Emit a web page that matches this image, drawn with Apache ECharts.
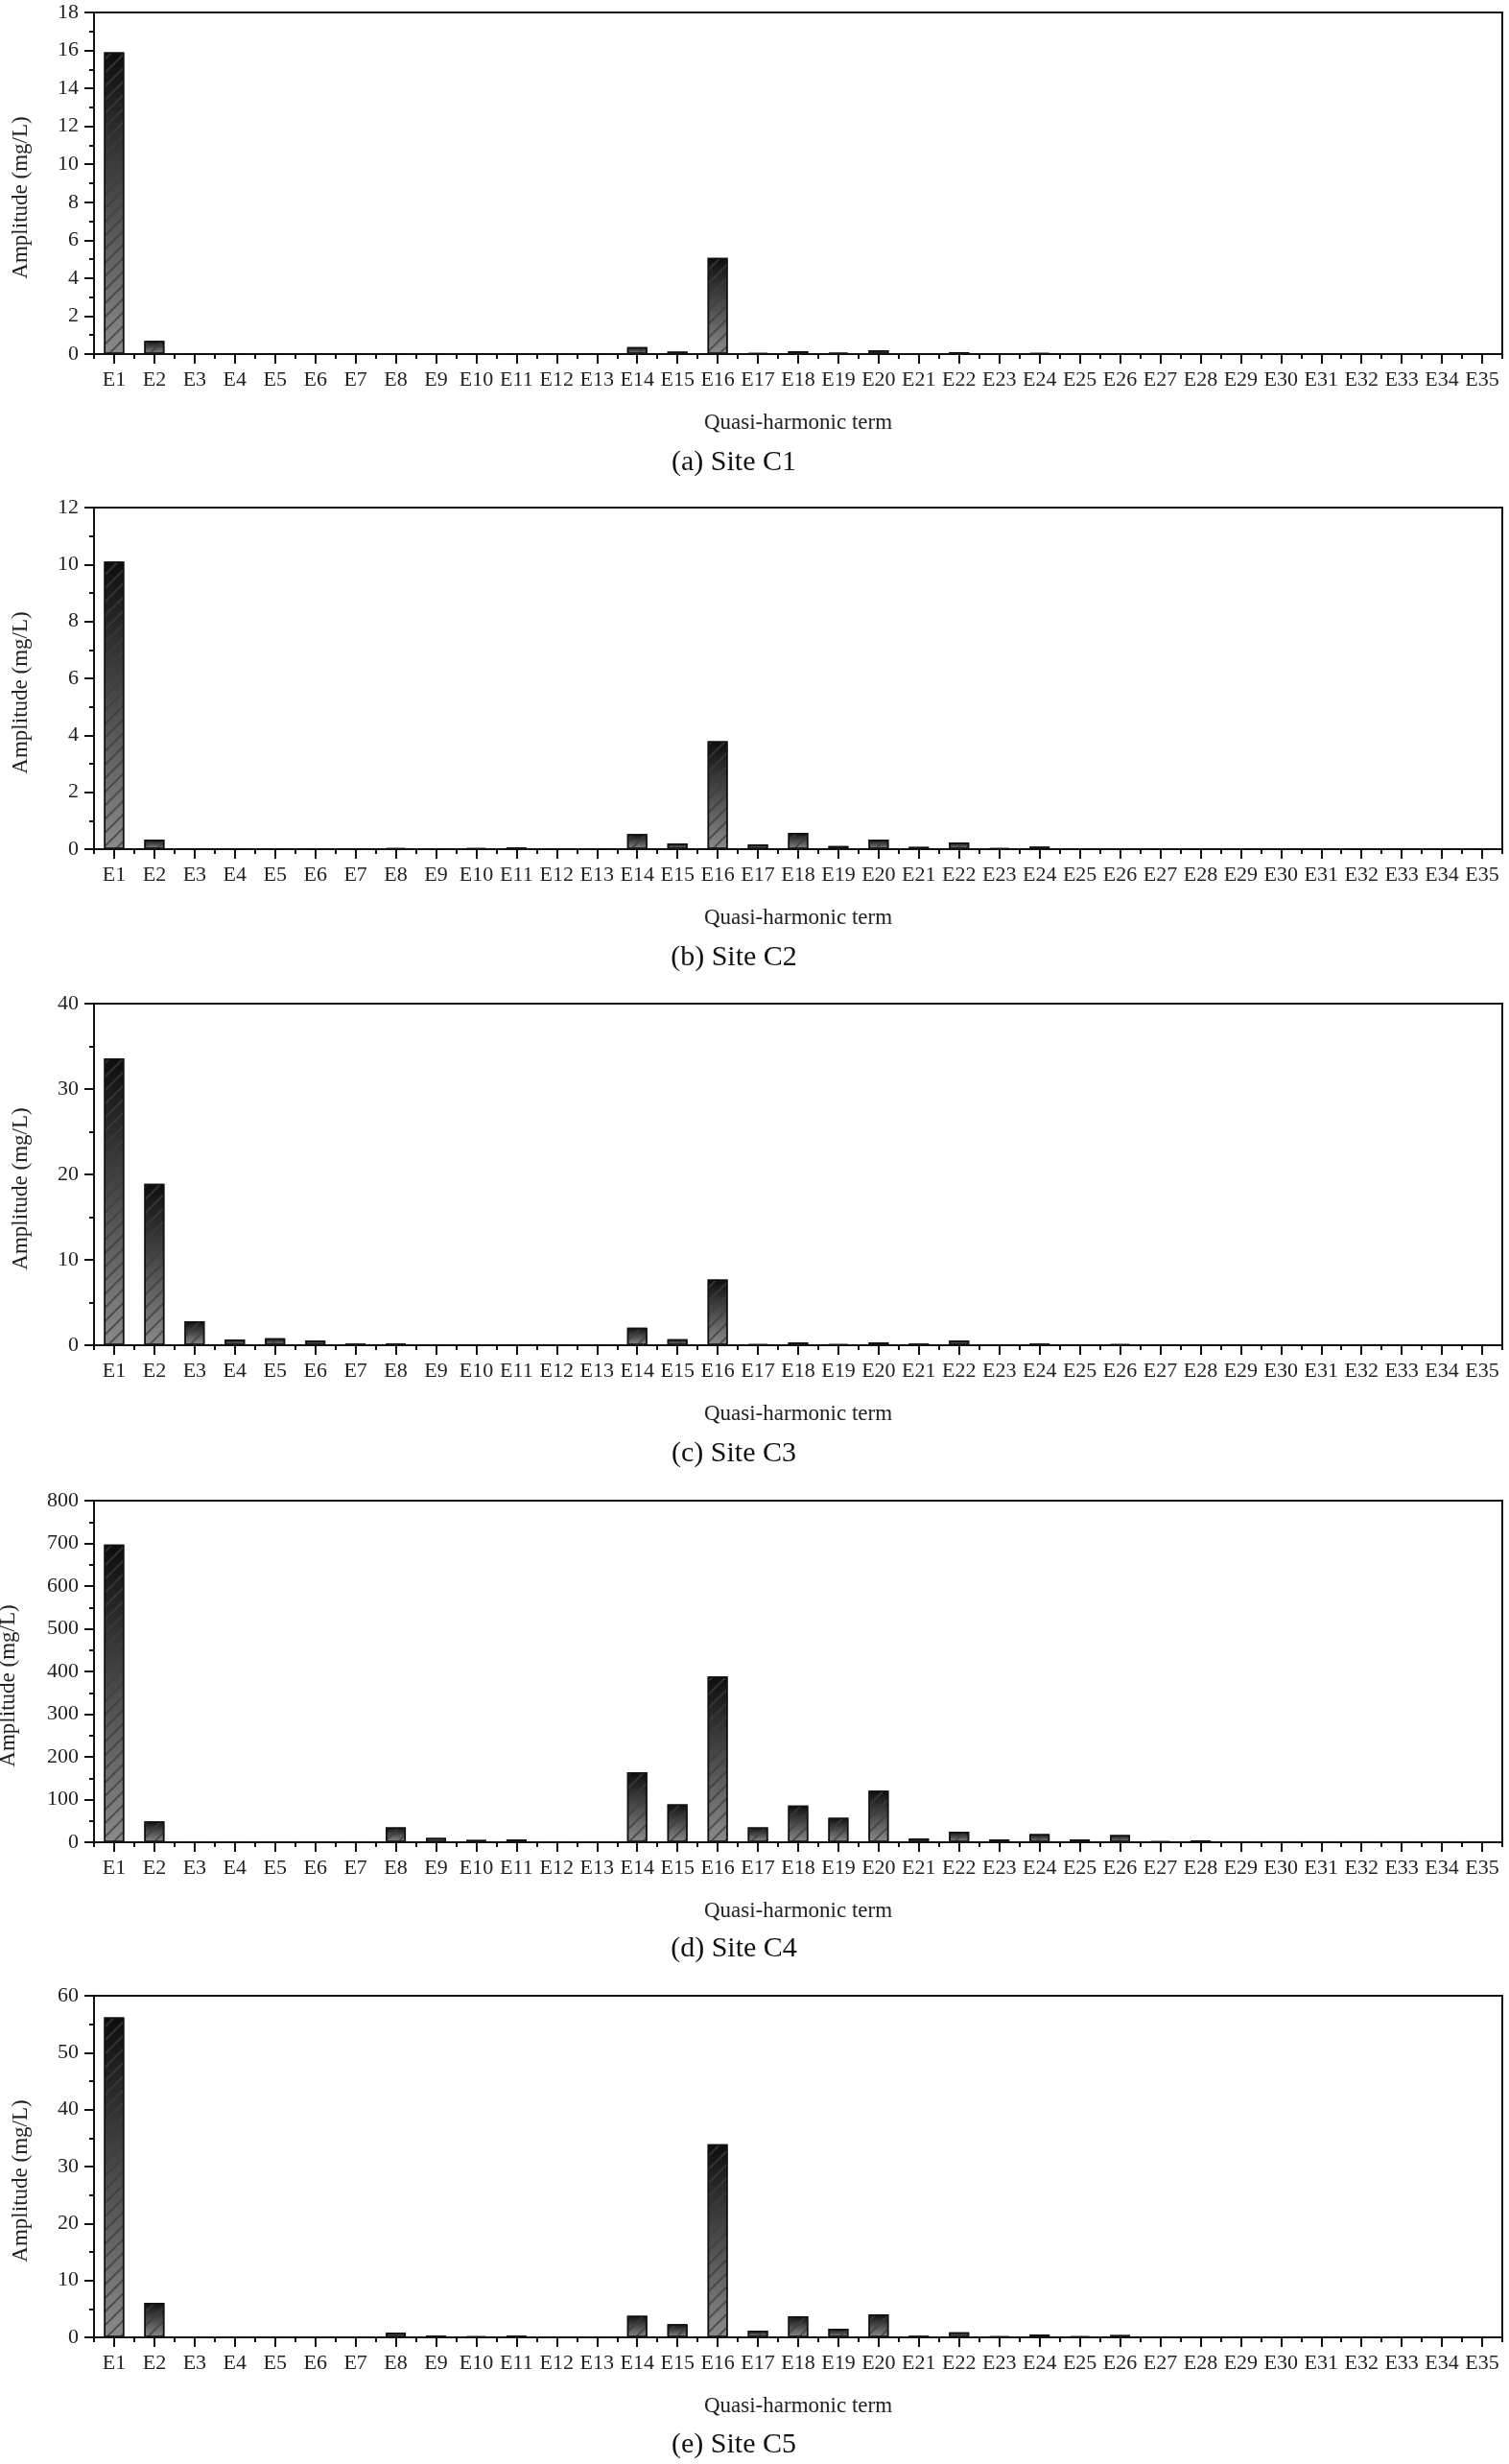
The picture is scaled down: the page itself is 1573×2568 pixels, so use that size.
<!DOCTYPE html>
<html>
<head>
<meta charset="utf-8">
<script src="https://cdn.jsdelivr.net/npm/echarts@6/dist/echarts.min.js"></script>
<style>
html,body{margin:0;padding:0;background:#fff;}
#chart{width:1573px;height:2568px;}
</style>
</head>
<body>
<div id="chart"></div>
<script>
const categories = ['E1','E2','E3','E4','E5','E6','E7','E8','E9','E10','E11','E12','E13','E14','E15','E16','E17','E18','E19','E20','E21','E22','E23','E24','E25','E26','E27','E28','E29','E30','E31','E32','E33','E34','E35'];

const siteC1 = [15.9,0.7,0,0,0,0,0,0,0,0,0,0,0,0.37,0.13,5.07,0.05,0.15,0.07,0.2,0.02,0.1,0.02,0.05,0,0,0,0,0,0,0,0,0,0,0];
const siteC2 = [10.1,0.34,0,0,0,0,0,0.04,0,0.03,0.06,0,0,0.53,0.2,3.79,0.17,0.57,0.11,0.34,0.08,0.24,0.03,0.09,0,0,0,0,0,0,0,0,0,0,0];
const siteC3 = [33.6,18.9,2.8,0.67,0.82,0.56,0.19,0.2,0,0,0,0,0,2.05,0.71,7.7,0.1,0.34,0.1,0.34,0.19,0.56,0,0.19,0,0.1,0,0,0,0,0,0,0,0,0];
const siteC4 = [697,49,0,0,0,0,0,35,10,5.4,7,0,0,164,89,388,35,86,57.5,121,9,24.6,6.5,19,6.5,17,2.2,4.5,0,0,0,0,0,0,0];
const siteC5 = [56.2,6.05,0,0,0,0,0,0.8,0.3,0.2,0.3,0,0,3.8,2.3,33.9,1.18,3.7,1.5,4.03,0.28,0.9,0.17,0.5,0.2,0.4,0,0,0,0,0,0,0,0,0];

const panelTitles = ['(a) Site C1','(b) Site C2','(c) Site C3','(d) Site C4','(e) Site C5'];
const yMax = [18, 12, 40, 800, 60];
const yInterval = [2, 2, 10, 100, 10];
const seriesData = [siteC1, siteC2, siteC3, siteC4, siteC5];

const gridTops = [13, 529, 1046, 1564, 2080];
const gridHeight = 356;
const titleY = [482, 998, 1515, 2031, 2548];
const yNameGap = [65, 65, 65, 78, 65];

const FONT = 'Liberation Serif';
const chart = echarts.init(document.getElementById('chart'), null, {renderer:'canvas'});

const grids = [], xAxes = [], yAxes = [], series = [], graphics = [];
for (let i = 0; i < 5; i++) {
  grids.push({left:98, right:7, top:gridTops[i], height:gridHeight, containLabel:false, outerBoundsMode:'none',
    show:true, borderColor:'#111', borderWidth:2, backgroundColor:'transparent'});
  // boundary (minor) ticks
  xAxes.push({
    type:'category', gridIndex:i, data:categories, position:'bottom',
    axisLine:{show:true, lineStyle:{color:'#111', width:2}},
    axisTick:{show:true, alignWithLabel:false, length:5, lineStyle:{color:'#111', width:2}, interval:0},
    axisLabel:{show:false}, splitLine:{show:false}
  });
  // center (major) ticks with labels
  xAxes.push({
    type:'category', gridIndex:i, data:categories, position:'bottom',
    name:'Quasi-harmonic term', nameLocation:'middle', nameGap:60,
    nameTextStyle:{fontFamily:FONT, fontSize:23, color:'#222'},
    axisLine:{show:true, lineStyle:{color:'#111', width:2}},
    axisTick:{show:true, alignWithLabel:true, length:10, interval:0, lineStyle:{color:'#111', width:2}},
    axisLabel:{show:true, interval:0, margin:16, fontFamily:FONT, fontSize:22, color:'#222'},
    splitLine:{show:false}
  });
  yAxes.push({
    type:'value', gridIndex:i, min:0, max:yMax[i], interval:yInterval[i],
    name:'Amplitude (mg/L)', nameLocation:'middle', nameGap:yNameGap[i],
    nameTextStyle:{fontFamily:FONT, fontSize:23, color:'#222', padding:[0,30,0,0]},
    axisLine:{show:true, lineStyle:{color:'#111', width:2}},
    axisTick:{show:true, length:10, lineStyle:{color:'#111', width:2}},
    minorTick:{show:true, splitNumber:2, length:5, lineStyle:{color:'#111', width:2}},
    axisLabel:{fontFamily:FONT, fontSize:22, color:'#222', margin:16},
    splitLine:{show:false}, minorSplitLine:{show:false}
  });
  series.push({
    type:'bar', xAxisIndex:2*i+1, yAxisIndex:i, data:seriesData[i], barWidth:'50%',
    itemStyle:{
      color:new echarts.graphic.LinearGradient(0,0,0,1,[{offset:0,color:'#0d0d0d'},{offset:1,color:'#8a8a8a'}]),
      borderColor:'#111', borderWidth:1.5,
      decal:{symbol:'rect', symbolSize:1, color:'rgba(60,60,60,0.75)', dashArrayX:[1,0], dashArrayY:[1.2,8], rotation:-Math.PI/4}
    },
    silent:true, animation:false
  });
  graphics.push({type:'text', x:765, y:titleY[i], style:{text:panelTitles[i], font:'30px "'+FONT+'"', fill:'#111', textAlign:'center', textVerticalAlign:'middle'}});
}

chart.setOption({
  animation:false,
  backgroundColor:'#fff',
  grid:grids, xAxis:xAxes, yAxis:yAxes, series:series, graphic:graphics
});
</script>
</body>
</html>
